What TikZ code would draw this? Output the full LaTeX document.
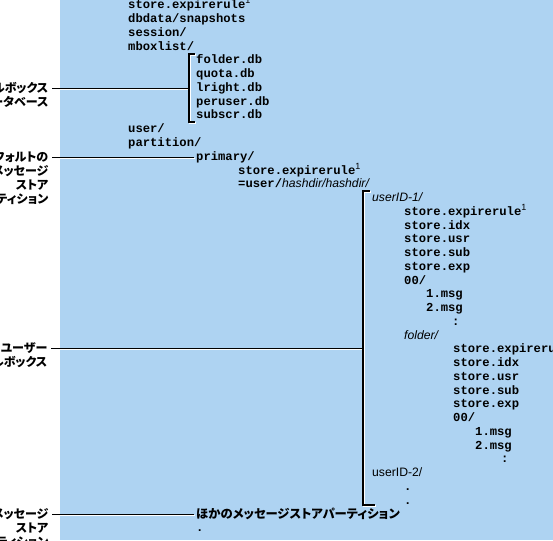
\documentclass[tikz,border=0pt]{standalone}
\usepackage{fontspec}
\setmainfont{Liberation Sans}
\setsansfont{Liberation Sans}
\setmonofont{Liberation Mono}
\newfontfamily\jpfont[RawFeature=+palt]{Noto Sans CJK JP}
\usetikzlibrary{positioning}

\definecolor{panelblue}{RGB}{174,211,242}
\newcommand{\supone}{\raisebox{5pt}{\fontsize{9}{9}\selectfont\sffamily\mdseries 1}}
\newcommand{\dirline}[4]{\node[fline] (#1) at (#2,9+#3*13.75) {#4};}

\begin{document}
\begin{tikzpicture}[x=1pt,y=-1pt,
  fline/.style={anchor=base west, inner sep=0pt, font=\ttfamily\bfseries\fontsize{12.2}{13.75}\selectfont},
  jlab/.style={anchor=base east, inner xsep=3.5pt, inner ysep=0pt, text height=8.5pt, text depth=1pt,
    font=\jpfont\bfseries\fontsize{12}{14}\selectfont},
  jtext/.style={anchor=base west, inner sep=0pt, text height=8.5pt, text depth=1pt,
    font=\jpfont\bfseries\fontsize{12.3}{14}\selectfont},
  lead/.style={line width=1.6pt, black,
    preaction={draw=white, line width=1.4pt, transform canvas={shift={(1.1pt,-1.1pt)}}}}
]
\useasboundingbox (0,0) rectangle (553,540);
\clip (0,0) rectangle (553,540);
\fill[panelblue] (60,0) rectangle (553,540);

% labels on the left
\node[jlab] (lblMbox) at (52,92.3) {メールボックス};
\node[jlab] (lblMbox2) at (52,106.3) {データベース};
\node[jlab] (lblDef) at (52,161.3) {デフォルトの};
\node[jlab] (lblDef2) at (52,175.3) {メッセージ};
\node[jlab] (lblDef3) at (52,189.3) {ストア};
\node[jlab] (lblDef4) at (52,203.3) {パーティション};
\node[jlab] (lblUser) at (51,352.3) {ユーザー};
\node[jlab] (lblUser2) at (51,366.3) {メールボックス};
\node[jlab] (lblOther) at (52,518.3) {メッセージ};
\node[jlab] (lblOther2) at (52,532.3) {ストア};
\node[jlab] (lblOther3) at (52,546.3) {パーティション};

% store tree
\dirline{exprA}{128}{0}{store.expirerule\supone}
\dirline{dbdata}{128}{1}{dbdata/snapshots}
\dirline{session}{128}{2}{session/}
\dirline{mboxlist}{128}{3}{mboxlist/}
\dirline{folderdb}{196}{4}{folder.db}
\dirline{quotadb}{196}{5}{quota.db}
\dirline{lrightdb}{196}{6}{lright.db}
\dirline{peruserdb}{196}{7}{peruser.db}
\dirline{subscrdb}{196}{8}{subscr.db}
\dirline{user}{128}{9}{user/}
\dirline{partition}{128}{10}{partition/}
\dirline{primary}{196}{11}{primary/}
\dirline{exprB}{238}{12}{store.expirerule\supone}
\dirline{hashdir}{238}{13}{=user/{\sffamily\mdseries\itshape hashdir/hashdir/}}
\dirline{uidA}{372}{14}{{\sffamily\mdseries\itshape userID-1/}}
\dirline{exprC}{404}{15}{store.expirerule\supone}
\dirline{idxA}{404}{16}{store.idx}
\dirline{usrA}{404}{17}{store.usr}
\dirline{subA}{404}{18}{store.sub}
\dirline{expA}{404}{19}{store.exp}
\dirline{zeroA}{404}{20}{00/}
\dirline{msgA}{426}{21}{1.msg}
\dirline{msgB}{426}{22}{2.msg}
\dirline{moreA}{452}{23}{:}
\dirline{folder}{404}{24}{{\sffamily\mdseries\itshape folder/}}
\dirline{exprD}{453}{25}{store.expirerule\supone}
\dirline{idxB}{453}{26}{store.idx}
\dirline{usrB}{453}{27}{store.usr}
\dirline{subB}{453}{28}{store.sub}
\dirline{expB}{453}{29}{store.exp}
\dirline{zeroB}{453}{30}{00/}
\dirline{msgC}{475}{31}{1.msg}
\dirline{msgD}{475}{32}{2.msg}
\dirline{moreB}{501}{33}{:}
\dirline{uidB}{372}{34}{{\sffamily\mdseries userID-2/}}
\dirline{dotA}{404}{35}{.}
\dirline{dotB}{404}{36}{.}
\node[jtext] (others) at (196,518.4) {ほかのメッセージストアパーティション};
\dirline{dotC}{196}{38}{.}

% brackets
\coordinate (b1top) at (189,54);
\coordinate (b1bot) at (189,122);
\coordinate (b1topend) at (195,54);
\coordinate (b1botend) at (195,122);
\coordinate (b2top) at (363,191);
\coordinate (b2bot) at (363,505);
\coordinate (b2topend) at (370,191);
\coordinate (b2botend) at (375,505);

% leader lines
\draw[lead] (lblMbox.east) -- (lblMbox.east -| b1top);
\draw[lead, shorten >=2pt] (lblDef.east) -- (lblDef.east -| primary.west);
\draw[lead] (lblUser.east) -- (lblUser.east -| b2top);
\draw[lead, shorten >=2pt] (lblOther.east) -- (lblOther.east -| others.west);
\draw[lead] (b1topend) -- (b1top) -- (b1bot) -- (b1botend);
\draw[lead] (b2topend) -- (b2top) -- (b2bot) -- (b2botend);
\end{tikzpicture}
\end{document}
